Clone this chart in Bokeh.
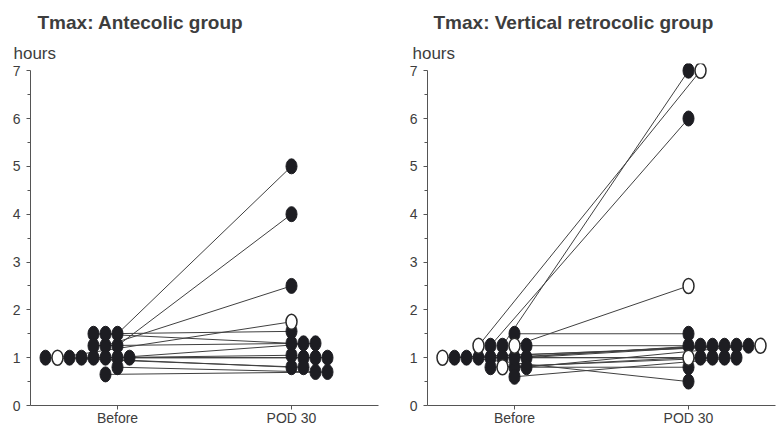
from bokeh.plotting import figure
from bokeh.layouts import row
from bokeh.models import Range1d, FixedTicker, Title, ColumnDataSource
from bokeh.embed import file_html
from bokeh.resources import INLINE

# ---------------- data ----------------
panel_titles = ["Tmax: Antecolic group", "Tmax: Vertical retrocolic group"]
time_points = ["Before", "POD 30"]
unit_label = "hours"
y_tick_values = [0, 1, 2, 3, 4, 5, 6, 7]

antecolic_before = [1.5, 1.25, 1.25, 1.5, 1.5, 1.25, 1.0, 1.0, 1.0, 1.0, 1.0, 1.0, 1.0, 1.0, 0.8, 0.65]
antecolic_pod30 = [5.0, 4.0, 2.5, 1.55, 1.3, 1.3, 1.3, 1.05, 1.0, 1.0, 1.0, 0.8, 1.75, 0.8, 0.7, 0.7]
antecolic_open = [False, False, False, False, False, False, False, False,
                  False, False, False, False, True, False, False, False]

retro_before = [1.25, 1.25, 1.25, 1.25, 1.25, 1.5, 0.8, 0.8, 1.0, 1.0,
                1.0, 1.0, 1.0, 1.0, 1.0, 0.8, 0.8, 0.6, 1.0]
retro_pod30 = [2.5, 7.0, 6.0, 1.25, 7.0, 1.5, 0.8, 1.0, 1.25, 1.25,
               1.0, 1.25, 1.0, 0.5, 1.25, 1.0, 1.25, 1.0, 1.25]
retro_open = [True, False, False, False, True, False, False, True, False, False,
              False, False, False, False, False, False, False, False, True]

# ---------------- layout constants ----------------
FRAME_W = 348
TOP = 63
BOTTOM = 23
FIG_H = 428
FRAME_H = FIG_H - TOP - BOTTOM
X0, X1 = 0.5, 2.5
Y0, Y1 = 0.0, 7.15
PX_X = FRAME_W / (X1 - X0)
PX_Y = FRAME_H / (Y1 - Y0)
SLOT_PX = 12.0
GAP_PX = 8.5
MARK_W, MARK_H = 11, 15

FONT = "Liberation Sans"
TEXT_COLOR = "#3d3d3d"
AXIS_COLOR = "#555555"
DOT_COLOR = "#1d1d22"
LINE_COLOR = "#404040"


def swarm(values, order):
    placed = []
    slots = []
    for v in values:
        chosen = order[-1]
        for s in order:
            if all(not (ps == s and abs(pv - v) * PX_Y < GAP_PX) for ps, pv in placed):
                chosen = s
                break
        placed.append((chosen, v))
        slots.append(chosen)
    return slots


def panel(title, before, after, is_open, border_left, border_right, title_dx, unit_dx):
    p = figure(width=border_left + FRAME_W + border_right,
               height=FIG_H,
               x_range=Range1d(X0, X1), y_range=Range1d(Y0, Y1),
               output_backend="svg", toolbar_location=None,
               min_border_left=border_left, min_border_right=border_right,
               min_border_top=TOP, min_border_bottom=BOTTOM)
    p.outline_line_color = None
    p.grid.visible = False
    p.background_fill_color = "white"
    p.border_fill_color = "white"

    b_slots = swarm(before, [0, -1, -2, 1, -3, -4, -5, -6, -7, -8])
    a_slots = swarm(after, list(range(0, 12)))
    bx = [1 + s * SLOT_PX / PX_X for s in b_slots]
    ax = [2 + s * SLOT_PX / PX_X for s in a_slots]

    p.segment(x0=bx, y0=before, x1=ax, y1=after, line_color=LINE_COLOR, line_width=1)

    def pts(sel):
        xs, ys = [], []
        for i in range(len(before)):
            if is_open[i] == sel:
                xs += [bx[i], ax[i]]
                ys += [before[i], after[i]]
        return ColumnDataSource(dict(x=xs, y=ys))

    p.ellipse(x="x", y="y", width=MARK_W, height=MARK_H, width_units="screen",
              height_units="screen", source=pts(False), fill_color=DOT_COLOR,
              line_color=DOT_COLOR, line_width=1)
    p.ellipse(x="x", y="y", width=MARK_W, height=MARK_H, width_units="screen",
              height_units="screen", source=pts(True), fill_color="white",
              line_color="#2a2a2a", line_width=1.5)

    # axes
    p.xaxis.ticker = FixedTicker(ticks=[1, 2])
    p.xaxis.major_label_overrides = {1: time_points[0], 2: time_points[1]}
    p.yaxis.ticker = FixedTicker(ticks=y_tick_values,
                                 minor_ticks=[v + 0.5 for v in y_tick_values[:-1]])
    p.yaxis.bounds = (y_tick_values[0], y_tick_values[-1])
    for ax_ in (p.xaxis, p.yaxis):
        ax_.axis_line_color = AXIS_COLOR
        ax_.axis_line_width = 1
        ax_.major_tick_line_color = AXIS_COLOR
        ax_.minor_tick_line_color = AXIS_COLOR
        ax_.major_tick_in = 0
        ax_.major_tick_out = 4
        ax_.minor_tick_in = 0
        ax_.minor_tick_out = 3
        ax_.major_label_text_font = FONT
        ax_.major_label_text_font_size = "14px"
        ax_.major_label_text_color = TEXT_COLOR
    p.xaxis.minor_tick_line_color = None
    p.xaxis.major_label_standoff = 0
    p.yaxis.major_label_standoff = 6

    p.title.text = title
    p.title.align = "left"
    p.title.offset = title_dx
    p.title.standoff = 17
    p.title.text_font = FONT
    p.title.text_font_size = "19px"
    p.title.text_font_style = "bold"
    p.title.text_color = TEXT_COLOR

    p.add_layout(Title(text=unit_label, align="left", offset=unit_dx, standoff=1,
                       text_font=FONT, text_font_size="17px", text_font_style="normal",
                       text_color=TEXT_COLOR), "above")
    return p


p1 = panel(panel_titles[0], antecolic_before, antecolic_pod30, antecolic_open, 30, 20, 7, -17)
p2 = panel(panel_titles[1], retro_before, retro_pod30, retro_open, 29, 1, 6, -15)

layout = row(p1, p2, spacing=0)
open("out.html", "w").write(file_html(layout, INLINE))
